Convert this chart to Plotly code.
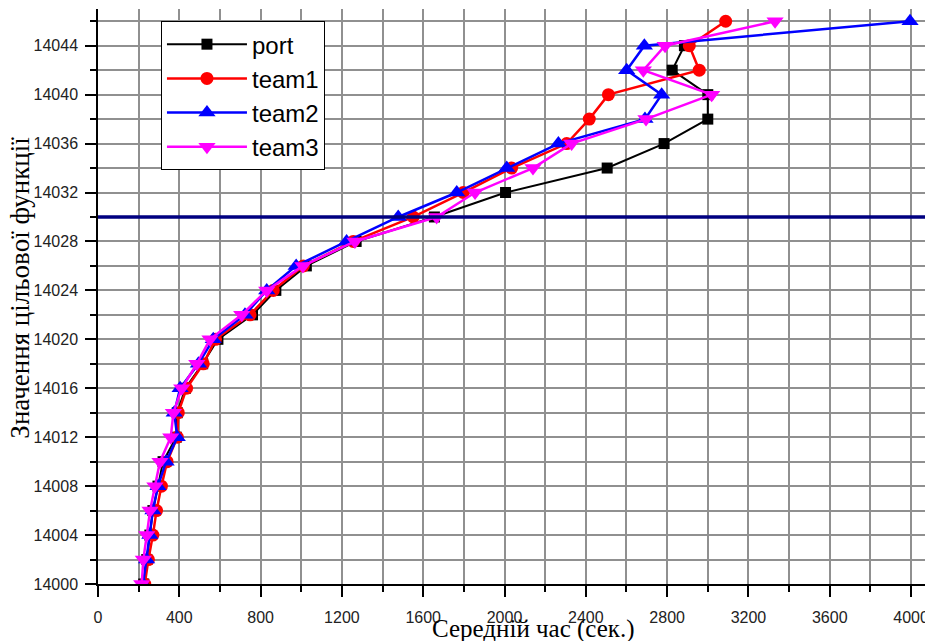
import plotly.graph_objects as go

y_levels = list(range(14000, 14047, 2))

port_x = [225, 240, 255, 270, 295, 320, 385, 390, 430, 515, 590, 760, 875, 1025,
          1270, 1655, 2005, 2505, 2785, 3000, 3000, 2825, 2885]
team1_x = [230, 248, 270, 288, 312, 340, 390, 395, 436, 518, 578, 748, 862, 1010,
           1256, 1551, 1797, 2035, 2306, 2417, 2511, 2958, 2909, 3088]
team2_x = [222, 239, 255, 270, 295, 335, 390, 375, 404, 494, 567, 723, 830, 975,
           1223, 1477, 1765, 2011, 2265, 2691, 2773, 2601, 2688, 3995]
team3_x = [215, 223, 240, 256, 280, 305, 358, 371, 412, 486, 551, 707, 830, 1008,
           1264, 1666, 1855, 2140, 2330, 2696, 3019, 2683, 2790, 3331]

threshold = 14030

series = [
    ("port", port_x, "#000000", "square", 11, 2),
    ("team1", team1_x, "#ff0000", "circle", 13, 2.5),
    ("team2", team2_x, "#0000ff", "triangle-up", 15, 2.5),
    ("team3", team3_x, "#ff00ff", "triangle-down", 15, 2.5),
]

fig = go.Figure()
for name, xs, color, sym, size, lw in series:
    fig.add_trace(go.Scatter(
        x=xs, y=y_levels[:len(xs)], name=name, mode="lines+markers",
        line=dict(color=color, width=lw),
        marker=dict(symbol=sym, size=size, color=color),
    ))

fig.add_hline(y=threshold, line=dict(color="#000080", width=3.3), layer="above")

tickfont = dict(family="Liberation Sans, Arial, sans-serif", size=16, color="#222")
grid = "#909090"

fig.update_layout(
    width=925, height=633,
    margin=dict(l=90, r=0, t=1, b=57),
    plot_bgcolor="white", paper_bgcolor="white",
    showlegend=True,
    legend=dict(
        x=0.0754, y=0.979, xanchor="left", yanchor="top",
        bgcolor="white", bordercolor="#000", borderwidth=1,
        font=dict(family="Liberation Sans, Arial, sans-serif", size=24, color="#000"),
        tracegroupgap=0, itemwidth=80,
    ),
    xaxis=dict(
        range=[0, 4108], dtick=400, tick0=0, tickformat="d",
        showline=True, linecolor="#000", linewidth=1.5,
        ticks="outside", ticklen=11, tickwidth=1.5, tickcolor="#000",
        showgrid=True, gridcolor=grid, gridwidth=1.5,
        zeroline=False, tickfont=tickfont, ticklabelstandoff=7,
        minor=dict(dtick=200, ticks="outside", ticklen=6, tickwidth=1.5,
                   tickcolor="#000", showgrid=True, gridcolor=grid, gridwidth=1.5),
    ),
    yaxis=dict(
        range=[14000, 14047], dtick=4, tick0=14000, tickformat="d",
        showline=True, linecolor="#000", linewidth=1.5,
        ticks="outside", ticklen=11, tickwidth=1.5, tickcolor="#000",
        showgrid=True, gridcolor=grid, gridwidth=1.5,
        zeroline=False, tickfont=tickfont, ticklabelstandoff=4,
        minor=dict(dtick=2, ticks="outside", ticklen=6, tickwidth=1.5,
                   tickcolor="#000", showgrid=True, gridcolor=grid, gridwidth=1.5),
    ),
    annotations=[
        dict(text="Середній час (сек.)", xref="paper", yref="paper",
             x=0.521, y=-0.078, xanchor="center", yanchor="middle",
             showarrow=False,
             font=dict(family="Liberation Serif, Times New Roman, serif", size=25, color="#000")),
        dict(text="Значення цільової функції", xref="paper", yref="paper",
             x=-0.093, y=0.516, xanchor="center", yanchor="middle",
             textangle=-90, showarrow=False,
             font=dict(family="Liberation Serif, Times New Roman, serif", size=27, color="#000")),
    ],
)

fig.write_html("out.html")
